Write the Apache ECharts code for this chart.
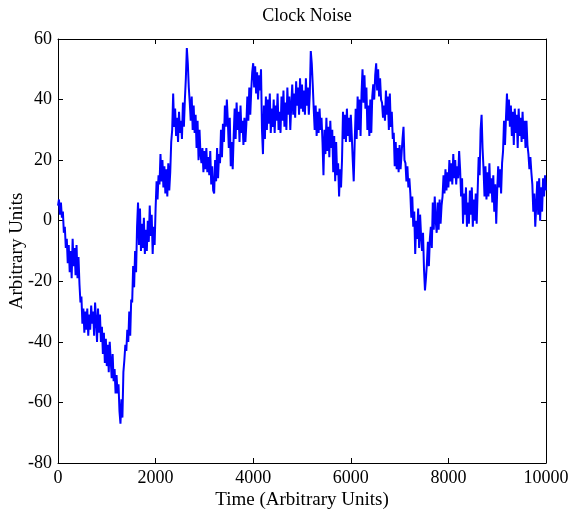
<!DOCTYPE html>
<html>
<head>
<meta charset="utf-8">
<script src="https://cdn.jsdelivr.net/npm/echarts@6/dist/echarts.min.js"></script>
<style>html,body{margin:0;padding:0;background:#fff;}#c{width:571px;height:516px;}</style>
</head>
<body>
<div id="c"></div>
<script>
// Sample spacing of the trace (time units per sample)
var STEP = 20;
// Clock noise values, one per STEP starting at t = 0
var noise = [
  5, 7, 2, 6, 1, 3, -4, -2, -9, -6,
  -14, -8, -17, -10, -19, -6, -15, -9, -18, -8,
  -19, -12, -21, -27, -25, -34, -29, -37, -30, -36,
  -29, -38, -31, -36, -28, -34, -30, -38, -27, -33,
  -40, -29, -37, -31, -40, -35, -44, -37, -47, -39,
  -48, -41, -50, -40, -46, -52, -44, -53, -49, -57,
  -51, -57, -54, -63, -67, -59, -65, -50, -46, -41,
  -43, -36, -40, -30, -38, -26, -27, -15, -22, -10,
  -17, -2, 6, -8, 4, -10, -1, -9, 1, -11,
  -3, -10, 0, -7, 5, -5, 2, -11, -2, -8,
  4, 13, 7, 15, 12, 22, 13, 20, 11, 18,
  9, 17, 8, 19, 10, 16, 26, 30, 42, 31,
  37, 28, 34, 26, 36, 29, 33, 27, 39, 31,
  40, 47, 57, 52, 44, 39, 33, 41, 30, 38,
  29, 35, 24, 33, 20, 30, 22, 19, 24, 16,
  23, 17, 24, 16, 21, 15, 23, 12, 18, 10,
  9, 20, 13, 24, 14, 22, 19, 30, 21, 32,
  26, 38, 31, 40, 33, 24, 34, 18, 26, 17,
  28, 37, 27, 39, 30, 36, 26, 38, 29, 33,
  25, 34, 26, 32, 41, 33, 44, 35, 43, 49,
  52, 44, 51, 42, 49, 40, 48, 43, 50, 30,
  22, 38, 27, 41, 30, 40, 32, 42, 29, 37,
  31, 40, 29, 38, 33, 42, 30, 36, 29, 41,
  33, 43, 31, 39, 30, 44, 35, 41, 30, 38,
  45, 35, 42, 34, 46, 38, 44, 35, 47, 37,
  45, 36, 43, 35, 47, 38, 44, 35, 42, 56,
  52, 45, 37, 30, 38, 28, 36, 29, 37, 30,
  34, 26, 15, 30, 22, 34, 23, 31, 21, 33,
  24, 30, 16, 28, 13, 26, 15, 19, 8, 17,
  11, 20, 36, 27, 35, 26, 37, 28, 34, 26,
  35, 28, 20, 13, 26, 37, 27, 41, 30, 40,
  28, 42, 50, 39, 48, 37, 44, 30, 38, 28,
  40, 29, 41, 45, 40, 48, 52, 43, 50, 41,
  47, 40, 39, 34, 38, 33, 43, 35, 41, 30,
  42, 31, 36, 27, 29, 18, 26, 17, 24, 16,
  25, 17, 22, 27, 31, 20, 19, 13, 18, 11,
  14, 9, 1, 8, -2, 3, -11, 0, -6, 4,
  -9, 2, -5, -10, -4, -16, -23, -19, -14, -7,
  -15, -6, -2, -9, 6, -3, 8, 0, -4, 6,
  -3, 7, -1, 5, 8, 15, 9, 17, 10, 16,
  11, 20, 13, 19, 12, 22, 14, 20, 12, 18,
  14, 23, 17, 8, 14, -1, 9, 2, 11, -2,
  6, -1, 10, 2, 11, -2, 7, 0, 9, -1,
  10, 21, 15, 30, 35, 24, 17, 8, 18, 7,
  16, 8, 19, 9, 14, 6, 15, 3, 12, -1,
  10, 18, 11, 17, 9, 19, 23, 33, 25, 34,
  42, 33, 40, 31, 38, 28, 36, 25, 37, 29,
  35, 24, 37, 28, 34, 26, 36, 27, 33, 24,
  33, 25, 22, 17, 21, 16, 12, 3, 9, -2,
  5, 13, 2, 14, 0, 11, 3, 14, 8, 15,
  10
];
var xTicks = [0, 2000, 4000, 6000, 8000, 10000];
var yTicks = [-80, -60, -40, -20, 0, 20, 40, 60];

var seriesData = noise.map(function (v, i) { return [i * STEP, v]; });

var font = 'Liberation Serif';
var axisLine = { show: true, onZero: false, lineStyle: { color: '#000', width: 1 } };
var tick = { show: true, inside: true, length: 5, lineStyle: { color: '#000', width: 1 } };
var plain = function (v) { return String(v); };

var chart = echarts.init(document.getElementById('c'), null, { renderer: 'canvas' });
chart.setOption({
  animation: false,
  backgroundColor: '#fff',
  title: {
    text: 'Clock Noise',
    left: 302,
    top: 2,
    textAlign: 'center',
    textStyle: { fontFamily: font, fontSize: 18, fontWeight: 'normal', color: '#000' }
  },
  grid: { left: 58, right: 25, top: 39, bottom: 53, containLabel: false, outerBoundsMode: 'none' },
  xAxis: [{
    type: 'value',
    min: xTicks[0], max: xTicks[xTicks.length - 1], interval: 2000,
    position: 'bottom',
    name: 'Time (Arbitrary Units)',
    nameLocation: 'middle',
    nameGap: 28,
    nameMoveOverlap: false,
    nameTextStyle: { fontFamily: font, fontSize: 19, color: '#000' },
    axisLine: axisLine, axisTick: tick,
    axisLabel: { fontFamily: font, fontSize: 18, color: '#000', margin: 6, formatter: plain },
    splitLine: { show: false }
  }, {
    type: 'value',
    min: xTicks[0], max: xTicks[xTicks.length - 1], interval: 2000,
    position: 'top',
    axisLine: axisLine, axisTick: tick,
    axisLabel: { show: false },
    splitLine: { show: false }
  }],
  yAxis: [{
    type: 'value',
    min: yTicks[0], max: yTicks[yTicks.length - 1], interval: 20,
    position: 'left',
    name: 'Arbitrary Units',
    nameLocation: 'middle',
    nameGap: 31,
    nameMoveOverlap: false,
    nameTextStyle: { fontFamily: font, fontSize: 19, color: '#000' },
    axisLine: axisLine, axisTick: tick,
    axisLabel: { fontFamily: font, fontSize: 18, color: '#000', margin: 6, formatter: plain },
    splitLine: { show: false }
  }, {
    type: 'value',
    min: yTicks[0], max: yTicks[yTicks.length - 1], interval: 20,
    position: 'right',
    axisLine: axisLine, axisTick: tick,
    axisLabel: { show: false },
    splitLine: { show: false }
  }],
  series: [{
    type: 'line',
    data: seriesData,
    xAxisIndex: 0, yAxisIndex: 0,
    showSymbol: false,
    symbol: 'none',
    lineStyle: { color: '#0000ff', width: 2 },
    z: 3
  }]
});
</script>
</body>
</html>
